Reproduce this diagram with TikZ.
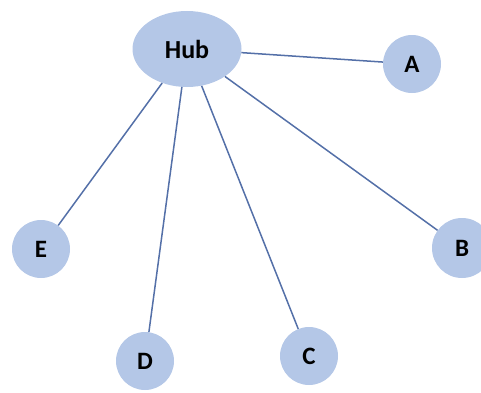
\documentclass[tikz,border=0pt]{standalone}
\usepackage{fontspec}
\setmainfont{Carlito}
\usetikzlibrary{shapes.geometric}
\definecolor{nodefill}{RGB}{180,199,231}
\definecolor{linkblue}{RGB}{84,112,168}

\begin{document}
\begin{tikzpicture} [x = 1pt, y = 1pt,
  spoke/.style = {circle, fill = nodefill, minimum size = 58pt, inner sep = 0pt, font = \fontsize{25}{25}\selectfont\bfseries},
  link/.style = {draw = linkblue, line width = 1.5pt}]
\useasboundingbox (0, 0) rectangle (481, 392);
\node[ellipse, fill = nodefill, minimum width = 109pt, minimum height = 76pt, inner sep = 0pt, font = \fontsize{26}{26}\selectfont\bfseries] (hub) at (187, 343){Hub};
\node[spoke] (a) at (412, 328){A};
\node[spoke, minimum size = 60pt] (b) at (462, 144){B};
\node[spoke] (c) at (309, 36){C};
\node[spoke] (d) at (145, 31){D};
\node[spoke] (e) at (41, 143){E};
\draw[link] (hub) -- (a);
\draw[link] (hub) -- (b);
\draw[link] (hub) -- (c);
\draw[link] (hub) -- (d);
\draw[link] (hub) -- (e);
\end{tikzpicture}
\end{document}
